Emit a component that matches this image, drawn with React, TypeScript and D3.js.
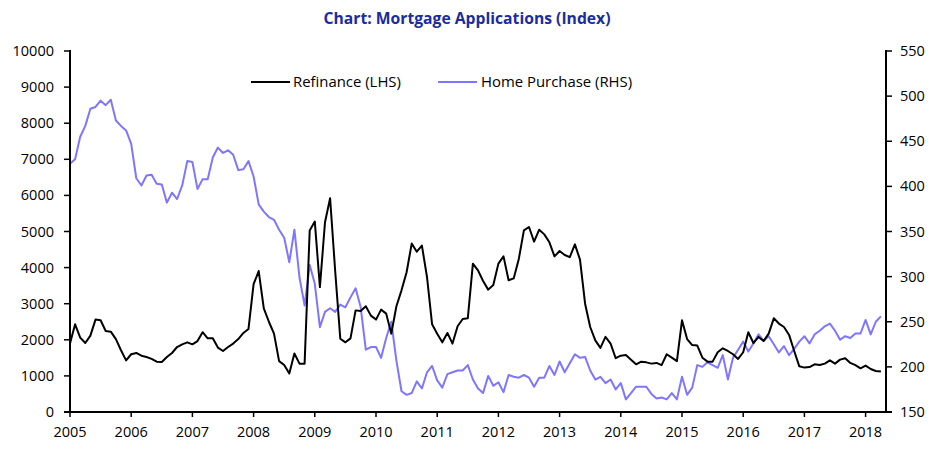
import React from "react";
import * as d3 from "d3";

const startYear = 2005;
const yearLabels = ["2005","2006","2007","2008","2009","2010","2011","2012","2013","2014","2015","2016","2017","2018"];
const leftTicks = [0,1000,2000,3000,4000,5000,6000,7000,8000,9000,10000];
const rightTicks = [150,200,250,300,350,400,450,500,550];

// Monthly, Jan 2005 - Apr 2018
const refinance = [
  1895,2430,2060,1910,2115,2560,2540,2245,2225,2020,1710,1430,
  1600,1635,1560,1525,1470,1395,1385,1525,1635,1800,1875,1930,
  1875,1965,2210,2040,2040,1785,1690,1800,1895,2020,2190,2300,
  3540,3905,2870,2500,2170,1410,1300,1065,1620,1340,1340,5030,
  5275,3460,5255,5920,3900,2030,1930,2040,2815,2800,2930,2670,
  2560,2835,2725,2170,2930,3370,3870,4665,4440,4610,3740,2430,
  2170,1930,2190,1895,2375,2575,2595,4110,3925,3630,3390,3520,
  4110,4310,3650,3700,4240,5030,5125,4720,5050,4920,4700,4310,
  4460,4350,4290,4645,4220,3000,2355,1985,1775,2080,1895,1490,
  1560,1580,1450,1320,1395,1375,1340,1360,1300,1600,1505,1410,
  2540,2020,1855,1840,1505,1395,1395,1655,1765,1690,1600,1470,
  1655,2210,1910,2080,1965,2170,2595,2450,2355,2135,1690,1265,
  1230,1245,1320,1300,1340,1430,1340,1450,1490,1360,1300,1210,
  1285,1190,1135,1120
];
const homePurchase = [
  425,430,455,467,486,488,495,490,496,473,467,462,
  447,409,401,412,413,403,402,382,393,386,401,428,
  427,397,408,408,432,443,437,440,435,418,419,428,
  411,380,372,366,363,352,343,316,352,299,268,313,
  292,244,261,265,261,269,266,277,287,266,219,222,
  222,210,232,250,207,173,169,171,184,176,194,201,
  185,177,192,194,196,196,202,186,176,171,190,179,
  183,172,191,189,188,191,188,178,188,188,201,191,
  206,194,204,214,210,211,196,186,189,182,186,175,
  182,164,171,178,178,178,170,165,166,164,171,164,
  189,169,177,202,200,205,202,199,213,186,210,219,
  228,217,226,236,229,234,225,216,223,213,220,228,
  234,226,236,240,245,248,240,230,234,232,237,237,
  252,236,250,256
];

const W = 946, H = 451;
const L = 70, R = 886, T = 51, B = 412;
const font = "'Open Sans', 'Liberation Sans', sans-serif";

export default function App() {
  const x = d3.scaleLinear().domain([0, 160]).range([L, R]);
  const yL = d3.scaleLinear().domain([0, 10000]).range([B, T]);
  const yR = d3.scaleLinear().domain([150, 550]).range([B, T]);
  const lineL = d3.line<number>().x((_, i) => x(i)).y(d => yL(d));
  const lineR = d3.line<number>().x((_, i) => x(i)).y(d => yR(d));
  const purple = "#7f76ff";

  return (
    <svg width={W} height={H} style={{ position: "absolute", left: 0, top: 0, background: "#fff" }}>
      <text x={467} y={24} textAnchor="middle" fontFamily={font} fontWeight="bold" fontSize={15.7} fill="#1a2c9e">
        Chart: Mortgage Applications (Index)
      </text>

      {/* data lines */}
      <path d={lineR(homePurchase) || ""} fill="none" stroke={purple} strokeWidth={2} strokeLinejoin="round" />
      <path d={lineL(refinance) || ""} fill="none" stroke="#000" strokeWidth={2} strokeLinejoin="round" />

      {/* left axis */}
      <line x1={L} x2={L} y1={T - 1} y2={B + 1} stroke="#000" strokeWidth={2} />
      {leftTicks.map(t => (
        <g key={"l" + t}>
          <line x1={L - 6} x2={L} y1={yL(t)} y2={yL(t)} stroke="#000" strokeWidth={1.5} />
          <text x={54} y={yL(t)} dy="0.35em" textAnchor="end" fontFamily={font} fontSize={14.5} fill="#000">{t}</text>
        </g>
      ))}

      {/* right axis */}
      <line x1={R} x2={R} y1={T - 1} y2={B + 1} stroke="#000" strokeWidth={2} />
      {rightTicks.map(t => (
        <g key={"r" + t}>
          <line x1={R} x2={R + 6} y1={yR(t)} y2={yR(t)} stroke="#000" strokeWidth={1.5} />
          <text x={900} y={yR(t)} dy="0.35em" textAnchor="start" fontFamily={font} fontSize={14.5} fill="#000">{t}</text>
        </g>
      ))}

      {/* x axis */}
      <line x1={L - 6} x2={R + 6} y1={B} y2={B} stroke="#000" strokeWidth={2} />
      {yearLabels.map(lab => {
        const xi = x((+lab - startYear) * 12);
        return (
          <g key={"x" + lab}>
            <line x1={xi} x2={xi} y1={B} y2={B + 5} stroke="#000" strokeWidth={1.5} />
            <text x={xi} y={437} textAnchor="middle" fontFamily={font} fontSize={14.5} fill="#000">{lab}</text>
          </g>
        );
      })}

      {/* legend */}
      <line x1={251} x2={290} y1={82} y2={82} stroke="#000" strokeWidth={2} />
      <text x={293} y={82} dy="0.35em" fontFamily={font} fontSize={14.9} fill="#000">Refinance (LHS)</text>
      <line x1={438} x2={477} y1={82} y2={82} stroke={purple} strokeWidth={2} />
      <text x={481} y={82} dy="0.35em" fontFamily={font} fontSize={14.9} fill="#000">Home Purchase (RHS)</text>
    </svg>
  );
}
